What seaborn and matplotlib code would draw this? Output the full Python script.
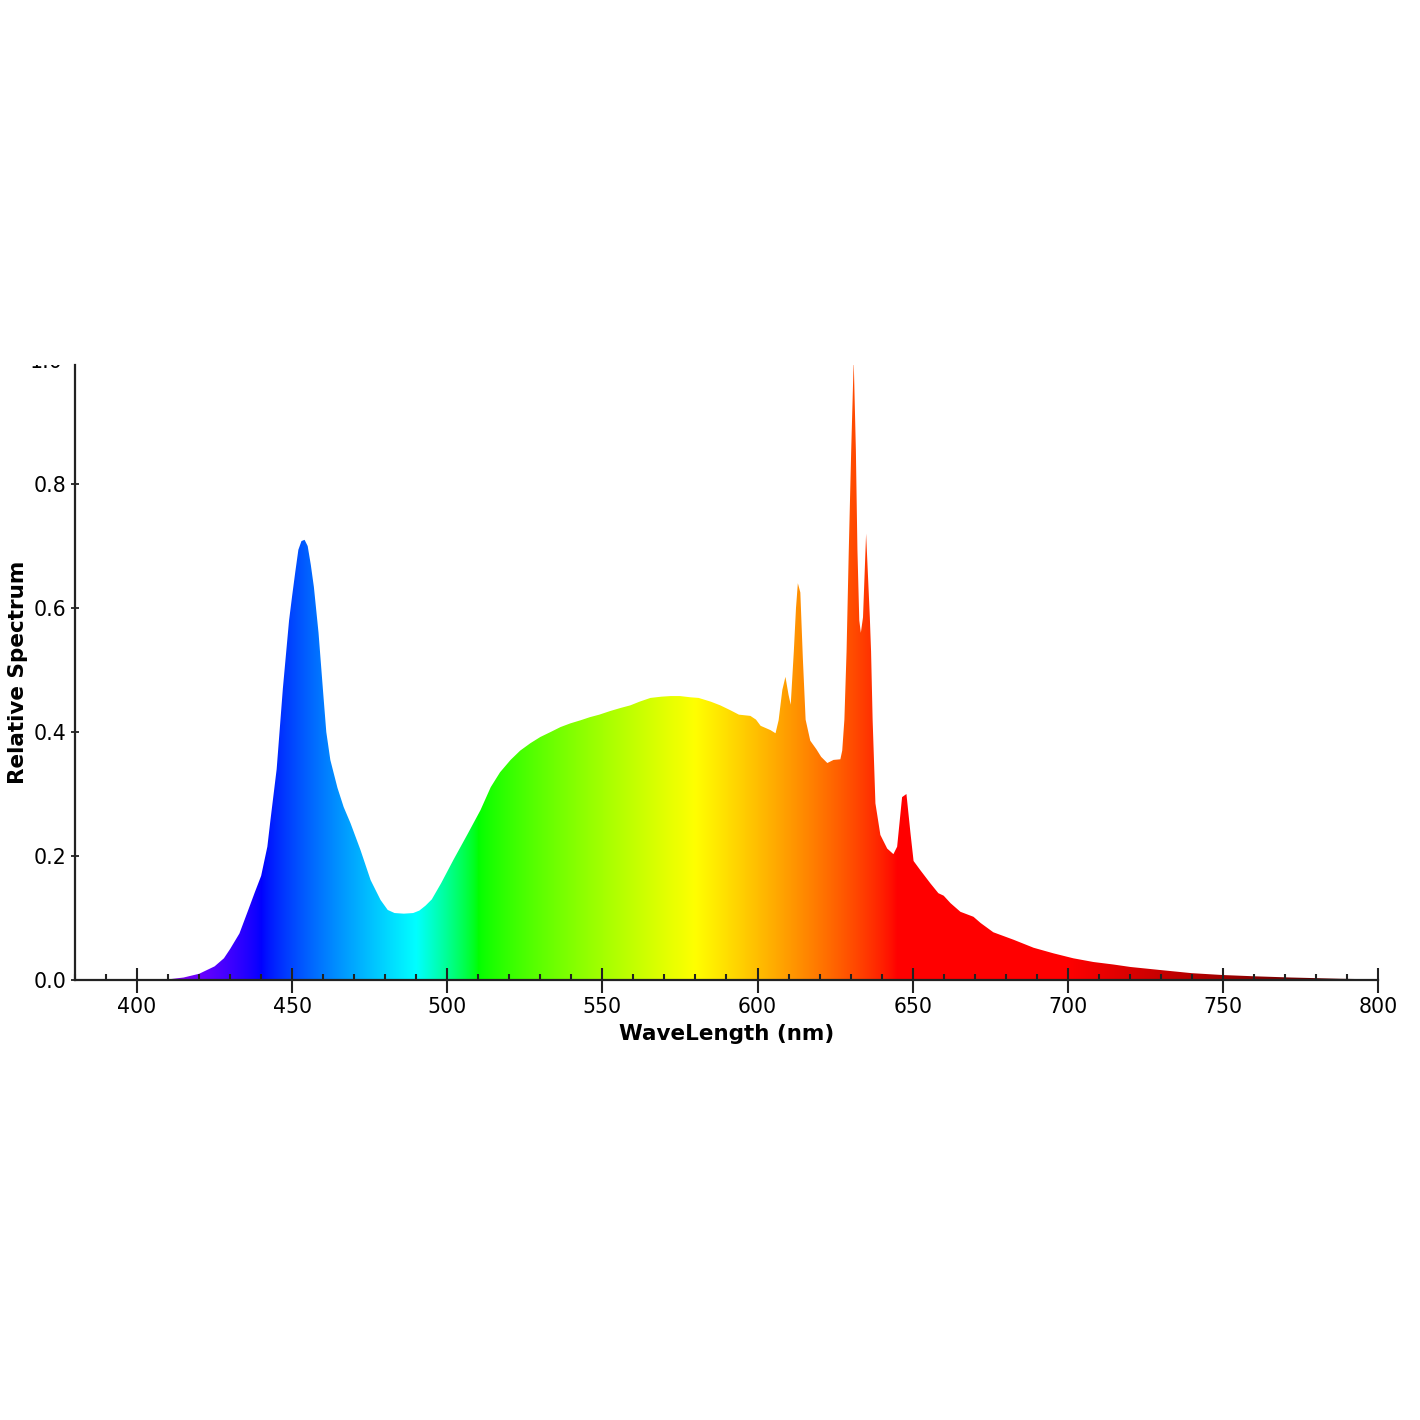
import numpy as np
import matplotlib
matplotlib.use("Agg")
import matplotlib.pyplot as plt
import seaborn as sns
from matplotlib.ticker import MultipleLocator
from matplotlib.transforms import Bbox, TransformedBbox, blended_transform_factory

# wavelength (nm) and relative spectrum
wavelength = [380, 405, 410, 415, 420, 425, 428, 430, 433, 436, 438, 440, 442, 443, 445,
              447, 449, 450, 451, 452, 453, 454, 455, 456, 457, 458.5, 460, 461, 462.3,
              464.6, 466.6, 468.8, 472, 475.3, 478.5, 480.8, 483, 486, 489, 491, 493, 495,
              498, 502, 506.5, 510.7, 514, 517, 520.4, 523.5, 526.8, 530, 533.3, 536.5,
              539.7, 543, 546, 549, 552.6, 556, 559, 562, 565.5, 569, 572, 575, 578.4, 581,
              584.9, 588, 591.3, 594, 597.7, 599.5, 601, 604.2, 605.8, 606.8, 608, 609, 610,
              610.7, 611.7, 612.4, 613, 613.8, 614.6, 615.5, 617, 619, 620.5, 622.5, 624.5,
              626.7, 627.3, 628, 628.7, 629.4, 630.2, 631, 631.7, 632.2, 632.8, 633.3, 634,
              635, 636.2, 636.6, 637.1, 638, 639.6, 641.8, 643.8, 645, 646.6, 648, 649.3,
              650.3, 652.5, 655.7, 658.3, 660, 662.2, 665.4, 669.6, 671.9, 676, 682.5, 689,
              695.4, 701.8, 708.3, 714.7, 720.2, 730, 740, 750, 760, 772, 788, 800]
spectrum = [0.0, 0.0, 0.001, 0.004, 0.01, 0.022, 0.035, 0.05, 0.075, 0.115, 0.142, 0.168,
            0.215, 0.258, 0.34, 0.47, 0.58, 0.62, 0.658, 0.694, 0.708, 0.71, 0.70, 0.67,
            0.634, 0.56, 0.463, 0.40, 0.355, 0.31, 0.279, 0.253, 0.21, 0.161, 0.129, 0.113,
            0.108, 0.107, 0.108, 0.112, 0.12, 0.13, 0.156, 0.194, 0.235, 0.274, 0.311,
            0.335, 0.355, 0.37, 0.382, 0.392, 0.40, 0.408, 0.414, 0.419, 0.424, 0.428,
            0.434, 0.439, 0.443, 0.449, 0.455, 0.457, 0.458, 0.458, 0.456, 0.455, 0.449,
            0.443, 0.435, 0.428, 0.426, 0.42, 0.41, 0.403, 0.398, 0.419, 0.468, 0.489,
            0.46, 0.444, 0.53, 0.60, 0.64, 0.625, 0.52, 0.42, 0.386, 0.372, 0.36, 0.35,
            0.355, 0.356, 0.37, 0.42, 0.53, 0.69, 0.855, 1.0, 0.855, 0.694, 0.58, 0.56,
            0.585, 0.72, 0.585, 0.53, 0.42, 0.285, 0.234, 0.212, 0.203, 0.215, 0.295, 0.30,
            0.237, 0.192, 0.177, 0.156, 0.14, 0.136, 0.124, 0.11, 0.102, 0.092, 0.077,
            0.065, 0.052, 0.043, 0.035, 0.029, 0.025, 0.021, 0.016, 0.011, 0.008, 0.006,
            0.004, 0.002, 0.001]

x_ticks = [400, 450, 500, 550, 600, 650, 700, 750, 800]
y_ticks = [0.0, 0.2, 0.4, 0.6, 0.8]


def wavelength_rgb(w, gamma=0.8):
    if w < 440:
        r, g, b = -(w - 440) / 60, 0.0, 1.0
    elif w < 490:
        r, g, b = 0.0, (w - 440) / 50, 1.0
    elif w < 510:
        r, g, b = 0.0, 1.0, -(w - 510) / 20
    elif w < 580:
        r, g, b = (w - 510) / 70, 1.0, 0.0
    elif w < 645:
        r, g, b = 1.0, -(w - 645) / 65, 0.0
    else:
        r, g, b = 1.0, 0.0, 0.0
    if w < 420:
        f = 0.3 + 0.7 * (w - 380) / 40
    elif w > 700:
        f = 0.3 + 0.7 * (780 - min(w, 780)) / 80
    else:
        f = 1.0
    return [(c * f) ** gamma if c > 0 else 0.0 for c in (r, g, b)]


sns.set_theme(style="ticks")
plt.rcParams['font.family'] = ['DejaVu Sans']

fig = plt.figure(figsize=(14.2, 14.2), dpi=100)
ax_left, ax_right, ax_bottom, ax_top = 75 / 1420, 1378 / 1420, 440 / 1420, 1055 / 1420
ax = fig.add_axes([ax_left, ax_bottom, ax_right - ax_left, ax_top - ax_bottom])

# spectrum area, filled with a wavelength colour gradient
poly = ax.fill_between(wavelength, spectrum, 0, facecolor="none", edgecolor="none")
grid = np.linspace(380, 800, 1200)
img = np.array([wavelength_rgb(w) for w in grid])[np.newaxis, :, :]
im = ax.imshow(img, extent=[380, 800, 0, 1.05], aspect="auto", origin="lower",
               interpolation="bilinear")
im.set_clip_path(poly.get_paths()[0], transform=ax.transData)

ax.set_xlim(380, 800)
ax.set_ylim(0, 0.992)
sns.despine(ax=ax)
for side in ["left", "bottom"]:
    ax.spines[side].set_linewidth(1.6)
    ax.spines[side].set_color("#222222")

ax.set_xticks(x_ticks)
ax.set_xticklabels([str(t) for t in x_ticks])
ax.xaxis.set_minor_locator(MultipleLocator(10))
ax.set_yticks(y_ticks)
ax.set_yticklabels([f"{t:.1f}" for t in y_ticks])
ax.tick_params(axis="x", which="major", direction="inout", length=18, width=1.5,
               color="#222222", labelsize=14.8, pad=3, labelcolor="black")
ax.tick_params(axis="x", which="minor", direction="in", length=4.5, width=1.5,
               color="#222222")
ax.tick_params(axis="y", which="major", direction="inout", length=6, width=1.3,
               color="#222222", labelsize=14.8, pad=3, labelcolor="black")

# the "1.0" label sits above the plot and is cut at its top edge
t = ax.text(-0.0092, 0.997, "1.0", transform=blended_transform_factory(ax.transAxes, ax.transData),
            ha="right", va="center", fontsize=14.8, color="black", clip_on=True)
t.set_clip_box(TransformedBbox(Bbox([[0, 0], [1, ax_top]]), fig.transFigure))

ax.set_xlabel("WaveLength (nm)", fontsize=15.5, fontweight="bold", labelpad=5, color="black")
ax.set_ylabel("Relative Spectrum", fontsize=15.5, fontweight="bold", labelpad=4, color="black")

fig.savefig("out.png", dpi=100, facecolor="white")
